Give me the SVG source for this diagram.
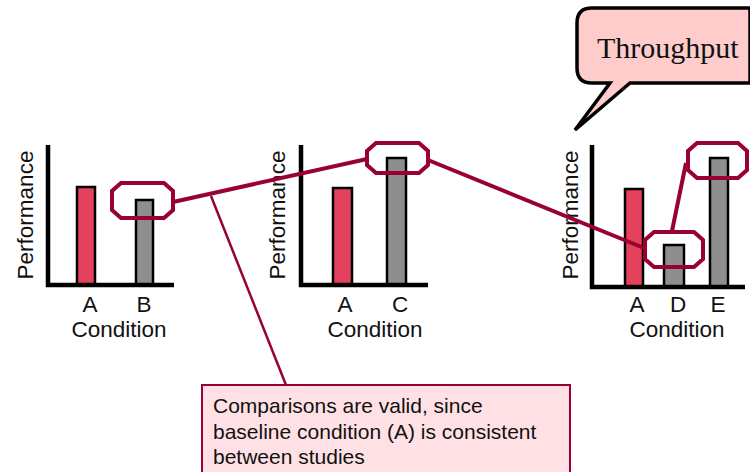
<svg xmlns="http://www.w3.org/2000/svg" width="750" height="472" viewBox="0 0 750 472">
<style>
.ax{stroke:#000;stroke-width:4.5;fill:none}
.ra{fill:#e4415c;stroke:#000;stroke-width:2.5}
.gr{fill:#8e8e8e;stroke:#000;stroke-width:2.5}
.oc{fill:none;stroke:#990033;stroke-width:4}
.t{font-family:"Liberation Sans",Arial,sans-serif;font-size:21px;fill:#111}
.l{font-family:"Liberation Sans",Arial,sans-serif;font-size:22.5px;fill:#111}
.c{stroke:#990033;stroke-width:4;fill:none}
</style>
<rect width="750" height="472" fill="#fff"/>
<g id="bubble">
<path d="M592,8 H750 V83 H630 L575,130 L610,83 H592 Q577,83 577,68 V23 Q577,8 592,8 Z" fill="#ffcccc" stroke="#000" stroke-width="3.5" stroke-linejoin="miter"/>
<text x="597" y="58" font-family="Liberation Serif,Times New Roman,serif" font-size="30" fill="#111">Throughput</text>
</g>
<g id="chart1">
<rect class="ra" x="77" y="187" width="18" height="98"/>
<rect class="gr" x="136" y="200" width="17" height="85"/>
<path class="ax" d="M48,145 V285 H174"/>
<text class="l" transform="translate(33,215) rotate(-90)" text-anchor="middle">Performance</text>
<text class="l" x="90" y="312" text-anchor="middle">A</text>
<text class="l" x="144" y="312" text-anchor="middle">B</text>
<text class="l" x="119" y="337" text-anchor="middle">Condition</text>
</g>
<g id="chart2">
<rect class="ra" x="333" y="188" width="19" height="97"/>
<rect class="gr" x="387" y="158" width="19" height="127"/>
<path class="ax" d="M301,145 V285 H428"/>
<text class="l" transform="translate(285,215) rotate(-90)" text-anchor="middle">Performance</text>
<text class="l" x="345" y="312" text-anchor="middle">A</text>
<text class="l" x="400" y="312" text-anchor="middle">C</text>
<text class="l" x="375" y="337" text-anchor="middle">Condition</text>
</g>
<g id="chart3">
<rect class="ra" x="625" y="189" width="18" height="98"/>
<rect class="gr" x="664" y="245" width="20" height="42"/>
<rect class="gr" x="710" y="158" width="18" height="129"/>
<path class="ax" d="M592,145 V287 H745"/>
<text class="l" transform="translate(578,215) rotate(-90)" text-anchor="middle">Performance</text>
<text class="l" x="637" y="312" text-anchor="middle">A</text>
<text class="l" x="678" y="312" text-anchor="middle">D</text>
<text class="l" x="718" y="312" text-anchor="middle">E</text>
<text class="l" x="677" y="337" text-anchor="middle">Condition</text>
</g>
<g id="highlights">
<path id="octB" class="oc" d="M121,183 H164 L173,191 V210 L164,218 H121 L112,210 V191 Z"/>
<path id="octC" class="oc" d="M376,143 H419 L428,151 V165 L419,173 H376 L367,165 V151 Z"/>
<path id="octD" class="oc" d="M654,232 H694 L703,240 V259 L694,267 H654 L645,259 V240 Z"/>
<path id="octE" class="oc" d="M697,143 H738 L747,151 V170 L738,178 H697 L688,170 V151 Z"/>
</g>
<g id="connectors">
<path class="c" d="M173,202 L367,159"/>
<path class="c" d="M428,160 L644,248"/>
<path class="c" d="M672,231 L686,163"/>
<path stroke="#990033" stroke-width="2.5" fill="none" d="M211,196 L286,385"/>
</g>
<g id="note">
<rect x="202" y="385" width="368" height="95" fill="#ffe1e5" stroke="#990033" stroke-width="2"/>
<text class="t" x="213" y="413">Comparisons are valid, since</text>
<text class="t" x="213" y="439">baseline condition (A) is consistent</text>
<text class="t" x="213" y="464">between studies</text>
</g>
</svg>
